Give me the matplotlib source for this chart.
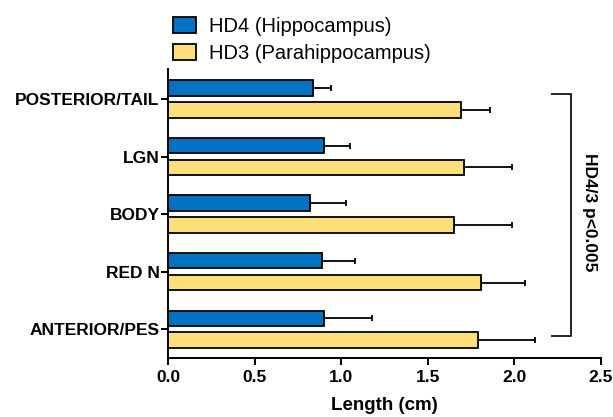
import numpy as np
import matplotlib
matplotlib.use("Agg")
import matplotlib.pyplot as plt
from matplotlib.patches import Patch

plt.rcParams['font.family'] = ['Liberation Sans', 'DejaVu Sans']

# regions, top to bottom
regions = ["POSTERIOR/TAIL", "LGN", "BODY", "RED N", "ANTERIOR/PES"]
hd4_mean = [0.84, 0.90, 0.82, 0.89, 0.90]
hd4_err = [0.10, 0.15, 0.21, 0.19, 0.28]
hd3_mean = [1.69, 1.71, 1.65, 1.81, 1.79]
hd3_err = [0.17, 0.28, 0.34, 0.25, 0.33]
series_names = ["HD4 (Hippocampus)", "HD3 (Parahippocampus)"]
xticks = [0.0, 0.5, 1.0, 1.5, 2.0, 2.5]

blue = "#0072c1"
yellow = "#ffdf7a"

fig = plt.figure(figsize=(6.13, 4.17), dpi=100)
ax = fig.add_axes([0.274, 0.1415, 0.706, 0.693])

y = np.arange(len(regions))[::-1].astype(float)
h = 0.27
off = 0.19

ax.barh(y + off, hd4_mean, height=h, color=blue, edgecolor="black", linewidth=1.3, zorder=2)
ax.barh(y - off, hd3_mean, height=h, color=yellow, edgecolor="black", linewidth=1.3, zorder=2)
ax.errorbar(hd4_mean, y + off, xerr=[np.zeros(len(regions)), hd4_err], fmt="none",
            ecolor="black", elinewidth=1.3, capsize=2.5, capthick=1.3, zorder=1)
ax.errorbar(hd3_mean, y - off, xerr=[np.zeros(len(regions)), hd3_err], fmt="none",
            ecolor="black", elinewidth=1.3, capsize=2.5, capthick=1.3, zorder=1)

ax.set_xlim(0, 2.5)
ax.set_ylim(-0.5, 4.52)
ax.set_xticks(xticks)
ax.set_xticklabels([f"{t:.1f}" for t in xticks], fontsize=12.5, fontweight="bold")
ax.set_yticks(y)
ax.set_yticklabels(regions, fontsize=12.5, fontweight="bold")
ax.set_xlabel("Length (cm)", fontsize=13.5, fontweight="bold", labelpad=8)

for s in ["top", "right"]:
    ax.spines[s].set_visible(False)
for s in ["left", "bottom"]:
    ax.spines[s].set_linewidth(1.4)
ax.tick_params(axis="both", width=1.4, length=5, pad=1)
ax.tick_params(axis="x", pad=4)

# significance bracket
bx0, bx1 = 2.22, 2.33
by0, by1 = -0.12, 4.09
ax.plot([bx0, bx1, bx1, bx0], [by1, by1, by0, by0], color="#222222", lw=1.4,
        clip_on=False)
ax.text(2.435, (by0 + by1) / 2 + 0.05, "HD4/3 p<0.005", rotation=-90, ha="center", va="center",
        fontsize=12.5, fontweight="bold")

handles = [Patch(facecolor=blue, edgecolor="black", linewidth=1.3),
           Patch(facecolor=yellow, edgecolor="black", linewidth=1.3)]
fig.legend(handles, series_names, loc="upper left", bbox_to_anchor=(0.262, 0.988),
           frameon=False, fontsize=14.5, handlelength=1.15, handleheight=0.8,
           handletextpad=0.65, labelspacing=0.4, borderaxespad=0.2)

fig.savefig("out.png", dpi=100)
